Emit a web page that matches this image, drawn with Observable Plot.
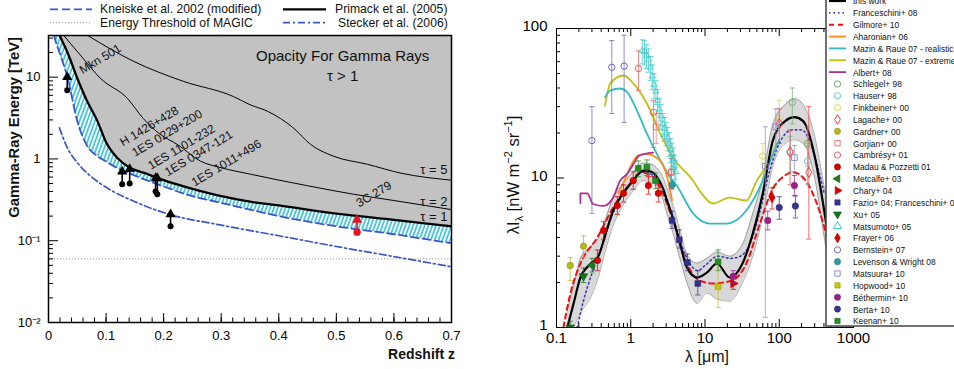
<!DOCTYPE html>
<html><head><meta charset="utf-8">
<script src="https://cdn.jsdelivr.net/npm/d3@7"></script>
<script src="https://cdn.jsdelivr.net/npm/@observablehq/plot@0.6"></script>
<style>
body{margin:0;background:#fff;}
#wrap{position:relative;width:954px;height:369px;overflow:hidden;font-family:"Liberation Sans",Arial,Helvetica,sans-serif;}
#wrap svg{position:absolute;top:0;}
</style></head><body><div id="wrap"></div>
<script>
// ================= LEFT PANEL DATA (redshift z vs gamma-ray energy, TeV) =================
const bandZ    = [0.005,0.01,0.02,0.033,0.05,0.067,0.085,0.1,0.12,0.14,0.17,0.2,0.25,0.3,0.35,0.4,0.5,0.6,0.7];
const primack  = [60,45,31.6,20,9.7,5.1,2.9,1.6,1.02,0.79,0.66,0.55,0.43,0.35,0.30,0.27,0.215,0.18,0.15];
const kneiske  = [45,31.6,19.2,10,2.9,1.45,1.08,0.93,0.77,0.67,0.55,0.46,0.35,0.29,0.24,0.2,0.15,0.12,0.093];
const tau2Z = [0.027,0.06,0.09,0.137,0.165,0.194,0.224,0.264,0.3,0.351,0.45,0.53,0.6,0.7];
const tau2E = [32,17,9.7,5.5,3.1,2.0,1.5,0.94,0.78,0.65,0.47,0.37,0.31,0.24];
const tau5Z = [0.069,0.147,0.234,0.321,0.35,0.38,0.426,0.455,0.495,0.554,0.612,0.7];
const tau5E = [32,15.7,8.9,5.8,4.6,3.84,2.37,1.51,1.08,0.86,0.67,0.55];
const steckerZ = [0.019,0.032,0.05,0.075,0.1,0.15,0.21,0.3,0.4,0.5,0.6,0.7];
const steckerE = [2.4,1.4,0.9,0.6,0.45,0.3,0.21,0.155,0.115,0.085,0.064,0.048];
const magicThreshold = 0.06;
const limitZ    = [0.0325,0.128,0.141,0.186,0.189,0.212,0.536];
const limitLow  = [6.9,0.49,0.5,0.40,0.37,0.15,0.127];
const limitHigh = [10,0.70,0.75,0.58,0.58,0.21,0.18];
const limitType = ["BL Lac","BL Lac","BL Lac","BL Lac","BL Lac","BL Lac","FSRQ"];
const sourceLabelText = ["Mkn 501","H 1426+428","1ES 0229+200","1ES 1101-232","1ES 0347-121","1ES 1011+496","3C 279"];
const sourceLabelZ = [0.09,0.175,0.206,0.231,0.261,0.309,0.565];
const sourceLabelE = [16.6,2.5,2.06,1.39,1.17,0.89,0.37];
const tauLabelText = ["τ = 5","τ = 2","τ = 1"];
const tauLabelE = [0.73,0.296,0.194];
const leftXTicks = [0,0.1,0.2,0.3,0.4,0.5,0.6,0.7];
const leftYTicks = [0.01,0.1,1,10];
const leftYTickText = ["10⁻²","10⁻¹","1","10"];

// ================= RIGHT PANEL DATA (EBL: lambda [um] vs nW m-2 sr-1) =================
const thisWorkLam = [0.14,0.17,0.21,0.29,0.37,0.45,0.58,0.79,1.08,1.47,1.9,2.3,2.7,3.07,3.7,4.6,5.7,7.8,10.6,14.5,21.5,32,44,60,82,120,160,210,300,390,600];
const thisWorkVal = [1.0,1.45,2.16,2.68,3.03,4.1,6.06,7.9,9.6,11.2,11.0,10.0,8.6,7.07,5.4,3.65,2.52,2.16,2.33,2.68,2.16,2.68,4.25,7.9,17.8,24,25.5,24,14,6.7,1.5];
const thisWorkLow = [0.8,1.0,1.25,1.6,2.2,3.2,4.8,6.6,8.2,9.6,9.4,8.4,7.2,5.8,4.3,2.9,2.0,1.45,1.7,1.55,1.5,2.0,3.0,5.5,12,17,18,17,10,4.5,1.0];
const thisWorkHigh= [1.3,1.9,2.9,3.5,4.0,5.2,7.4,9.2,11,12.6,12.4,11.5,10.2,8.6,6.6,4.5,3.1,2.7,2.9,3.2,3.0,3.6,5.8,10,23,31,34,31,19,9.5,2.5];
const franceschiniLam = [0.19,0.23,0.3,0.4,0.55,0.8,1.1,1.5,2.2,3,4,5,6.5,8,10,15,22,30,40,55,70,100,150,200,300,400];
const franceschiniVal = [1.0,1.5,2.3,3.4,5.5,8.0,9.8,11.0,10.0,7.5,4.8,3.4,2.6,2.4,2.6,3.0,2.9,3.0,3.6,6.0,10,17,21,21,14,8];
const gilmoreLam = [0.124,0.154,0.21,0.355,0.58,0.98,1.35,2.0,2.7,3.7,5.7,8.5,12.8,23,36,55,82,103,155,240,390,530,700,850];
const gilmoreVal = [1.0,1.69,2.68,4.0,6.35,9.2,10.9,10.2,7.9,5.2,2.68,2.06,1.97,2.06,2.68,4.96,8.5,9.8,10.9,9.2,5.0,2.68,1.6,1.2];
const aharonianLam = [0.68,0.85,1.0,1.22,1.6,2.5,3.1,3.6];
const aharonianVal = [7.9,10,12,14,14.5,13,10.1,7.1];
const mazinRealLam = [0.45,0.53,0.72,0.9,1.22,1.65,2.5,3.7,4.2,6.9,11.6,19.6,36,60,80,100];
const mazinRealVal = [34.6,38.5,39.7,37.4,28,19.8,13.1,9.5,8.8,5.8,4.96,4.96,6.06,9.6,14,18];
const mazinExtLam = [0.45,0.53,0.8,1.08,1.65,2.5,3.7,6.9,8.5,12.8,21.5,36,50,74,92];
const mazinExtVal = [30.5,43,48.5,43,31.5,19.8,13.7,9.6,8.2,6.75,7.4,7.07,9.6,13,17];
const albertLam = [0.21,0.21,0.26,0.31,0.43,0.58,0.72,0.9,1.1,1.3,2.0];
const albertVal = [6.8,7.9,7.9,6.7,6.5,7.4,9.6,10.7,12.5,14.1,14.8];
// measurements: [lambda, value, lower, upper]
const schlegel   = [[150,32,23,40],[240,17,12,22]];
const hauser     = [[140,14.8,11,19],[240,13,9,17]];
const finkbeiner = [[100,25,22,33],[60,14,11,17]];
const lagache    = [[100,23,17,29],[140,15,9,21],[250,10.9,3.9,30]];
const gardner    = [[0.153,2.6,2.06,2.93],[0.231,3.5,2.93,4.1]];
const gorjian    = [[2.2,22,17,27],[3.5,11,8.5,13.5]];
const cambresy   = [[1.27,54,38.5,71],[2.02,27.5,16,33],[3.53,10.9,8.5,13.5]];
const madau      = [[0.356,2.81,2.4,3.3],[0.43,4.45,3.9,5.1],[0.66,6.55,5.7,7.5],[0.8,7.9,6.9,9.0],[1.08,9.6,8.4,11.0],[1.73,8.9,7.8,10.2],[2.35,7.9,6.9,9.0]];
const metcalfe   = [[0.3,2.6,2.35,2.9]];
const chary      = [[24,1.97,1.8,2.2]];
const fazio      = [[3.6,5.2,4.6,6.0],[4.5,3.87,3.4,4.5],[5.8,2.72,2.4,3.1],[8.0,1.97,1.65,2.4]];
const xu         = [[0.153,1.0,0.9,1.1],[0.231,2.2,2.0,2.5]];
const matsumoto  = [[1.43,71,58,84],[1.53,70,57,83],[1.63,66,54,78],[1.73,62,51,73],[1.84,55,45,65],[1.95,48,39,57],[2.06,42,34,50],[2.18,38,31,45],[2.3,33,27,39],[2.42,29,24,34],[2.55,26,21,31],[2.7,23,19,27],[2.85,21.5,17.6,25.4],[3.0,20,16.4,23.6],[3.15,18.5,15.2,21.8],[3.3,17,13.9,20.1],[3.45,15.5,12.7,18.3],[3.6,14.5,11.9,17.1],[3.75,13.5,11.1,15.9],[3.9,12,9.8,14.2],[4.05,11,9.0,13.0]];
const frayer     = [[80,7.4,6.2,8.6]];
const bernstein  = [[0.3,17.8,5.8,30],[0.555,55,27,83],[0.814,56,23.5,90]];
const levenson   = [[3.6,9.0,8.4,9.6]];
const matsuura   = [[65,12,1.17,22],[90,22,15,29],[160,13.7,11,16.5]];
const hopwood    = [[15,1.88,1.36,2.68]];
const bethermin  = [[24,2.2,2.0,2.4],[70,5.2,4.5,6.0],[160,8.9,7.6,10.4]];
const berta      = [[100,6.35,5.3,7.5],[165,6.5,5.4,7.6]];
const keenan     = [[1.26,11.6,10.2,13],[1.65,11.8,10.4,13.2],[2.15,9.6,8.5,10.8],[15,2.75,2.4,3.3]];
const rightXTicks = [0.1,1,10,100,1000];
const rightYTicks = [1,10,100];
const legendNames = ["this work","Franceschini+ 08","Gilmore+ 10","Aharonian+ 06","Mazin & Raue 07 - realistic","Mazin & Raue 07 - extreme","Albert+ 08","Schlegel+ 98","Hauser+ 98","Finkbeiner+ 00","Lagache+ 00","Gardner+ 00","Gorjian+ 00","Cambrésy+ 01","Madau & Pozzetti 01","Metcalfe+ 03","Chary+ 04","Fazio+ 04; Franceschini+ 08","Xu+ 05","Matsumoto+ 05","Frayer+ 06","Bernstein+ 07","Levenson & Wright 08","Matsuura+ 10","Hopwood+ 10","Béthermin+ 10","Berta+ 10","Keenan+ 10"];

// ================= STYLES =================
const FONT = '"Liberation Sans", Arial, Helvetica, sans-serif';
const BLUE = "#3a56c8";
const triSym = (ang) => ({draw(ctx, size){ const r = Math.sqrt(size/1.3); for (let k=0;k<3;k++){ const a = ang + k*2*Math.PI/3; const px = r*Math.cos(a), py = r*Math.sin(a); k? ctx.lineTo(px,py) : ctx.moveTo(px,py);} ctx.closePath(); }});
const triDown = triSym(Math.PI/2), triLeft = triSym(Math.PI), triRight = triSym(0);
const capSym = {draw(ctx,size){ const w = Math.sqrt(size)*0.5; ctx.moveTo(-w,0); ctx.lineTo(w,0); }};
const d3sym = {circle:d3.symbolCircle, square:d3.symbolSquare, diamond:d3.symbolDiamond, triangle:d3.symbolTriangle, triDown, triLeft, triRight, octagon:d3.symbolCircle};

const lineStyles = [
  {stroke:"black", w:2.2, dash:null},
  {stroke:"#3a3ab8", w:1.6, dash:"1.5,3"},
  {stroke:"#ee1111", w:2, dash:"5,4"},
  {stroke:"#ff8c1a", w:1.8, dash:null},
  {stroke:"#33bcc0", w:1.8, dash:null},
  {stroke:"#c0c010", w:1.8, dash:null},
  {stroke:"#a8329a", w:1.8, dash:null}
];
const pointStyles = [
  {data:schlegel,   color:"#6fae6f", sym:"circle",  filled:false},
  {data:hauser,     color:"#6ec6c6", sym:"circle",  filled:false},
  {data:finkbeiner, color:"#d8d860", sym:"circle",  filled:false},
  {data:lagache,    color:"#ee4444", sym:"diamond", filled:false},
  {data:gardner,    color:"#b8b818", sym:"circle",  filled:true},
  {data:gorjian,    color:"#ee7777", sym:"square",  filled:false},
  {data:cambresy,   color:"#ee6060", sym:"octagon", filled:false},
  {data:madau,      color:"#dd0000", sym:"circle",  filled:true},
  {data:metcalfe,   color:"#227a22", sym:"triLeft", filled:true},
  {data:chary,      color:"#dd0000", sym:"triRight",filled:true},
  {data:fazio,      color:"#33338f", sym:"square",  filled:true},
  {data:xu,         color:"#117711", sym:"triDown", filled:true},
  {data:matsumoto,  color:"#40c8c8", sym:"triangle",filled:false, small:true},
  {data:frayer,     color:"#dd0000", sym:"diamond", filled:true},
  {data:bernstein,  color:"#6a6ab8", sym:"circle",  filled:false},
  {data:levenson,   color:"#2a9e9e", sym:"circle",  filled:true},
  {data:matsuura,   color:"#8f8fcc", sym:"square",  filled:false},
  {data:hopwood,    color:"#c8c800", sym:"square",  filled:true},
  {data:bethermin,  color:"#a0208f", sym:"circle",  filled:true},
  {data:berta,      color:"#36368f", sym:"circle",  filled:true},
  {data:keenan,     color:"#229022", sym:"square",  filled:true}
];
const plotSym = (s) => s==="triDown"?triDown : s==="triLeft"?triLeft : s==="triRight"?triRight : s==="octagon"?"circle" : s;

const wrap = document.getElementById("wrap");

// ================= LEFT PLOT =================
const band = bandZ.map((z,i)=>({z, p:primack[i], k:kneiske[i]}));
const tau2 = tau2Z.map((z,i)=>({z, e:tau2E[i]}));
const tau5 = tau5Z.map((z,i)=>({z, e:tau5E[i]}));
const stecker = steckerZ.map((z,i)=>({z, e:steckerE[i]}));
const limits = limitZ.map((z,i)=>({z, lo:limitLow[i], hi:limitHigh[i], t:limitType[i]}));
const srcLabels = sourceLabelText.map((t,i)=>({t, z:sourceLabelZ[i], e:sourceLabelE[i]}));
const tauLabels = tauLabelText.map((t,i)=>({t, z:0.7, e:tauLabelE[i]}));
const LW=480, LH=369, LML=48, LMR=29, LMT=35, LMB=47;
const LIW = LW-LML-LMR, LIH = LH-LMT-LMB;
const lxMinor = d3.range(0,36).map(i=>i*0.02).filter(v=>v<=0.7001);
const lyMinor = [];
[0.01,0.1,1,10].forEach(d=>{ for(let m=2;m<=9;m++){ if(d*m<=32.3) lyMinor.push(d*m);} });
const curve = "monotone-x";
const colorLimit = t => t==="FSRQ" ? "#e8141c" : "black";

const left = Plot.plot({
  width:LW, height:LH, marginLeft:LML, marginRight:LMR, marginTop:LMT, marginBottom:LMB,
  style:{fontFamily:FONT, fontSize:"13px", background:"transparent", color:"black"},
  x:{domain:[0,0.7], axis:null},
  y:{type:"log", domain:[0.01,32.3], axis:null},
  marks:[
    () => { const ns="http://www.w3.org/2000/svg"; const defs=document.createElementNS(ns,"defs");
      defs.innerHTML = '<pattern id="hatch" patternUnits="userSpaceOnUse" width="3.6" height="3.6" patternTransform="rotate(20)"><rect width="3.6" height="3.6" fill="white"/><line x1="1" y1="0" x2="1" y2="3.6" stroke="#22bcdc" stroke-width="1.5"/></pattern>';
      return defs; },
    Plot.areaY(band, {x:"z", y1:"k", y2:"p", fill:"url(#hatch)", curve, clip:true}),
    Plot.areaY(band, {x:"z", y1:"p", y2:()=>1000, fill:"#c2c2c2", curve, clip:true}),
    Plot.ruleY([magicThreshold], {stroke:"#9a9a9a", strokeWidth:1, strokeDasharray:"1.2,1.8"}),
    Plot.line(tau5, {x:"z", y:"e", stroke:"black", strokeWidth:1, curve, clip:true}),
    Plot.line(tau2, {x:"z", y:"e", stroke:"black", strokeWidth:1, curve, clip:true}),
    Plot.line(stecker, {x:"z", y:"e", stroke:BLUE, strokeWidth:1.7, strokeDasharray:"7,3,2,3", curve, clip:true}),
    Plot.line(band, {x:"z", y:"k", stroke:BLUE, strokeWidth:1.8, strokeDasharray:"8,4", curve, clip:true}),
    Plot.line(band, {x:"z", y:"p", stroke:"black", strokeWidth:2.3, curve, clip:true}),
    Plot.ruleX(limits, {x:"z", y1:"lo", y2:"hi", stroke:d=>colorLimit(d.t), strokeWidth:1.6}),
    Plot.dot(limits, {x:"z", y:"hi", symbol:"triangle", r:3.8, fill:d=>colorLimit(d.t), stroke:"none"}),
    Plot.dot(limits, {x:"z", y:"lo", r:d=>d.t==="FSRQ"?3.5:2.4, fill:d=>colorLimit(d.t), stroke:"none"}),
    Plot.text(srcLabels, {x:"z", y:"e", text:"t", rotate:-31, fontSize:12, fill:"#111"}),
    Plot.text(tauLabels, {x:"z", y:"e", text:"t", textAnchor:"end", dx:-4, fontSize:13, fill:"#111"}),
    Plot.text(["Opacity For Gamma Rays"], {x:()=>0.511, y:()=>18, text:d=>d, fontSize:15, fill:"#111"}),
    Plot.text(["τ > 1"], {x:()=>0.511, y:()=>10.2, text:d=>d, fontSize:15, fill:"#111"}),
    Plot.tickX(leftXTicks, {x:d=>d, insetTop:LIH-9, stroke:"black", strokeWidth:1}),
    Plot.tickX(lxMinor, {x:d=>d, insetTop:LIH-4.5, stroke:"black", strokeWidth:1}),
    Plot.tickY(leftYTicks, {y:d=>d, insetRight:LIW-10, stroke:"black", strokeWidth:1}),
    Plot.tickY(lyMinor, {y:d=>d, insetRight:LIW-5, stroke:"black", strokeWidth:1}),
    Plot.frame({stroke:"black", strokeWidth:1.5}),
    Plot.axisX({ticks:leftXTicks, tickSize:0, tickPadding:8, label:null, tickFormat:d=>String(d), fontSize:13}),
    Plot.axisY({ticks:leftYTicks, tickSize:0, tickPadding:8, label:null, tickFormat:d=>leftYTickText[leftYTicks.indexOf(d)], fontSize:13})
  ]
});
left.style.left = "0px";
wrap.appendChild(left);

// ================= RIGHT PLOT =================
const RW=474, RH=369, RML=76, RMR=101, RMT=28, RMB=42;
const RIW = RW-RML-RMR, RIH = RH-RMT-RMB;
const rxMinor = [], ryMinor = [];
[0.1,1,10,100].forEach(d=>{ for(let m=2;m<=9;m++) rxMinor.push(d*m); });
[1,10].forEach(d=>{ for(let m=2;m<=9;m++) ryMinor.push(d*m); });
const tw = thisWorkLam.map((l,i)=>({l, v:thisWorkVal[i], lo:thisWorkLow[i], hi:thisWorkHigh[i]}));
const mk = (L,V) => L.map((l,i)=>({l, v:V[i]}));
const models = [
  {d:mk(mazinExtLam,mazinExtVal), s:lineStyles[5]},
  {d:mk(mazinRealLam,mazinRealVal), s:lineStyles[4]},
  {d:mk(aharonianLam,aharonianVal), s:lineStyles[3]},
  {d:mk(albertLam,albertVal), s:lineStyles[6]},
  {d:mk(franceschiniLam,franceschiniVal), s:lineStyles[1]},
  {d:mk(gilmoreLam,gilmoreVal), s:lineStyles[2]}
];
const rightMarks = [
  Plot.areaY(tw, {x:"l", y1:"lo", y2:"hi", fill:"#d8d8d8", curve, clip:true}),
  Plot.line(tw, {x:"l", y:"lo", stroke:"#8a8a8a", strokeWidth:0.7, curve, clip:true}),
  Plot.line(tw, {x:"l", y:"hi", stroke:"#8a8a8a", strokeWidth:0.7, curve, clip:true})
];
models.forEach(m => rightMarks.push(Plot.line(m.d, {x:"l", y:"v", stroke:m.s.stroke, strokeWidth:m.s.w, strokeDasharray:m.s.dash, curve, clip:true})));
rightMarks.push(Plot.line(tw, {x:"l", y:"v", stroke:"black", strokeWidth:2.2, curve, clip:true}));
pointStyles.forEach(p => {
  rightMarks.push(Plot.ruleX(p.data, {x:d=>d[0], y1:d=>d[2], y2:d=>d[3], stroke:p.color, strokeWidth:1, strokeOpacity:0.75, clip:true}));
  rightMarks.push(Plot.dot(p.data, {x:d=>d[0], y:d=>d[2], symbol:capSym, r:3, stroke:p.color, strokeWidth:1, strokeOpacity:0.75, clip:true}));
  rightMarks.push(Plot.dot(p.data, {x:d=>d[0], y:d=>d[3], symbol:capSym, r:3, stroke:p.color, strokeWidth:1, strokeOpacity:0.75, clip:true}));
  rightMarks.push(Plot.dot(p.data, {x:d=>d[0], y:d=>d[1], symbol:plotSym(p.sym), r:p.small?2.3:3.2,
    fill:p.filled?p.color:"none", stroke:p.filled?d3.color(p.color).darker(0.8).formatHex():p.color, strokeWidth:p.filled?0.6:(p.small?0.8:1), clip:true}));
});
rightMarks.push(
  Plot.tickX(rightXTicks, {x:d=>d, insetTop:RIH-8, stroke:"black"}),
  Plot.tickX(rxMinor, {x:d=>d, insetTop:RIH-4, stroke:"black"}),
  Plot.tickX(rightXTicks, {x:d=>d, insetBottom:RIH-8, stroke:"black"}),
  Plot.tickX(rxMinor, {x:d=>d, insetBottom:RIH-4, stroke:"black"}),
  Plot.tickY(rightYTicks, {y:d=>d, insetRight:RIW-8, stroke:"black"}),
  Plot.tickY(ryMinor, {y:d=>d, insetRight:RIW-4, stroke:"black"}),
  Plot.frame({stroke:"black", strokeWidth:1}),
  Plot.axisX({ticks:rightXTicks, tickSize:0, tickPadding:5, label:null, tickFormat:d=>String(d), fontSize:15}),
  Plot.axisY({ticks:rightYTicks, tickSize:0, tickPadding:9, label:null, tickFormat:d=>String(d), fontSize:15, dy:-2})
);
const right = Plot.plot({
  width:RW, height:RH, marginLeft:RML, marginRight:RMR, marginTop:RMT, marginBottom:RMB,
  style:{fontFamily:FONT, fontSize:"15px", background:"transparent", color:"black"},
  x:{type:"log", domain:[0.1,1000], axis:null},
  y:{type:"log", domain:[1,100], axis:null},
  marks:rightMarks
});
right.style.left = "480px";
wrap.appendChild(right);

// ================= OVERLAY: legends and axis titles =================
const ov = d3.create("svg").attr("width",954).attr("height",369).style("left","0px").style("font-family",FONT);
const seg = (x1,y,x2,stroke,w,dash) => ov.append("line").attr("x1",x1).attr("x2",x2).attr("y1",y).attr("y2",y).attr("stroke",stroke).attr("stroke-width",w).attr("stroke-dasharray",dash);
const txt = (x,y,s,size,anchor="start",weight="normal") => ov.append("text").attr("x",x).attr("y",y).attr("font-size",size).attr("text-anchor",anchor).attr("font-weight",weight).attr("fill","#111").text(s);
// left legend
seg(50,9.3,92,BLUE,1.8,"8,4"); txt(100,13.2,"Kneiske et al. 2002 (modified)",12.2);
seg(50,22.7,92,"#9a9a9a",1,"1.2,1.8"); txt(100,26.8,"Energy Threshold of MAGIC",12.2);
seg(283,9.3,326,"black",2.2,null); txt(335,13.2,"Primack et al. (2005)",12.2);
seg(283,22.7,328,BLUE,1.8,"7,3,2,3"); txt(338,26.8,"Stecker et al. (2006)",12.2);
// left axis titles
ov.append("text").attr("transform","translate(19,37) rotate(-90)").attr("text-anchor","end").attr("font-size",14.8).attr("font-weight","bold").attr("fill","#111").text("Gamma-Ray Energy [TeV]");
txt(455,359,"Redshift z",14,"end","bold");
// right axis titles
const yl = ov.append("text").attr("transform","translate(519,175) rotate(-90)").attr("text-anchor","middle").attr("font-size",16.5).attr("fill","#111");
yl.append("tspan").text("λI");
yl.append("tspan").attr("font-size",11).attr("dy",4).text("λ");
yl.append("tspan").attr("dy",-4).text(" [nW m");
yl.append("tspan").attr("font-size",11).attr("dy",-7).text("−2");
yl.append("tspan").attr("dy",7).text(" sr");
yl.append("tspan").attr("font-size",11).attr("dy",-7).text("−1");
yl.append("tspan").attr("dy",7).text("]");
const xl = ov.append("text").attr("x",707).attr("y",362).attr("text-anchor","middle").attr("font-size",16).attr("fill","#111");
xl.append("tspan").text("λ [");
xl.append("tspan").text("μ");
xl.append("tspan").text("m]");
// right legend box
ov.append("rect").attr("x",826).attr("y",-10).attr("width",140).attr("height",336).attr("fill","white").attr("stroke","#444").attr("stroke-width",1.5);
legendNames.forEach((name,i) => {
  const y = 1 + 11.85*i;
  if (i < lineStyles.length) {
    const s = lineStyles[i];
    seg(829,y,846,s.stroke,s.w,s.dash);
  } else {
    const p = pointStyles[i - lineStyles.length];
    ov.append("path").attr("transform",`translate(837.5,${y})`)
      .attr("d", d3.symbol(d3sym[p.sym], p.sym==="circle"||p.sym==="octagon"?30:28)())
      .attr("fill", p.filled?p.color:"none")
      .attr("stroke", p.filled?d3.color(p.color).darker(0.8).formatHex():p.color)
      .attr("stroke-width", p.filled?0.6:1);
  }
  ov.append("text").attr("transform",`translate(853,${y+3.4}) scale(0.86,1)`).attr("font-size",9.8).attr("fill","#111").text(name);
});
wrap.appendChild(ov.node());
</script></body></html>
